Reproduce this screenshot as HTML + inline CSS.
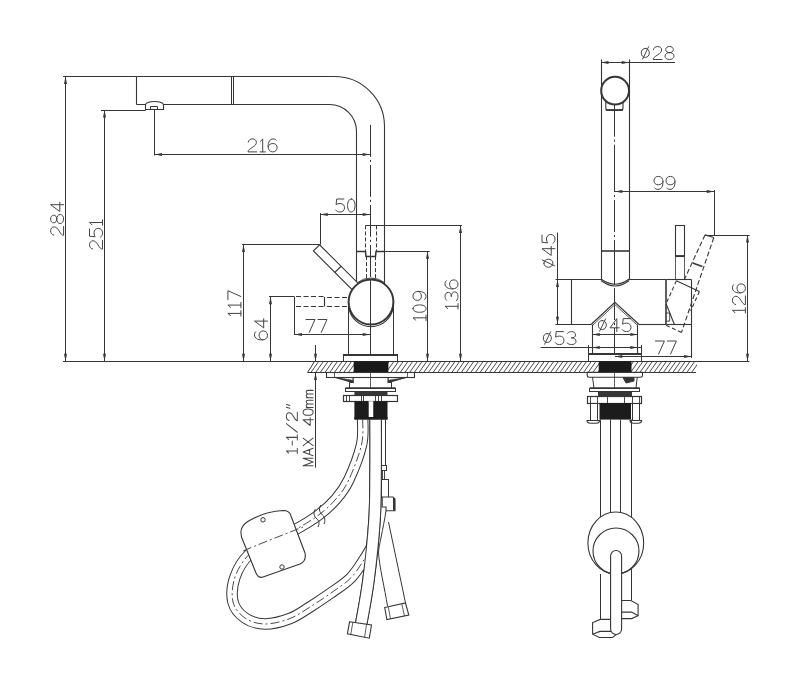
<!DOCTYPE html><html><head><meta charset="utf-8"><style>html,body{margin:0;padding:0;background:#fff;}svg{display:block;}</style></head><body>
<svg width="800" height="684" viewBox="0 0 800 684">
<rect width="800" height="684" fill="#fff"/>
<defs><clipPath id="slabL"><path d="M314.5 361.25 L697.5 361.25 L696 372.4 L307.5 372.4 C310 369 312.5 365 314.5 361.25 Z"/></clipPath></defs>
<g clip-path="url(#slabL)"><path d="M292.15 372.4 L300 361.25 M296.85 372.4 L304.7 361.25 M301.55 372.4 L309.4 361.25 M306.25 372.4 L314.1 361.25 M310.95 372.4 L318.8 361.25 M315.65 372.4 L323.5 361.25 M320.35 372.4 L328.2 361.25 M325.05 372.4 L332.9 361.25 M329.75 372.4 L337.6 361.25 M334.45 372.4 L342.3 361.25 M339.15 372.4 L347 361.25 M343.85 372.4 L351.7 361.25 M348.55 372.4 L356.4 361.25 M353.25 372.4 L361.1 361.25 M357.95 372.4 L365.8 361.25 M362.65 372.4 L370.5 361.25 M367.35 372.4 L375.2 361.25 M372.05 372.4 L379.9 361.25 M376.75 372.4 L384.6 361.25 M381.45 372.4 L389.3 361.25 M386.15 372.4 L394 361.25 M390.85 372.4 L398.7 361.25 M395.55 372.4 L403.4 361.25 M400.25 372.4 L408.1 361.25 M404.95 372.4 L412.8 361.25 M409.65 372.4 L417.5 361.25 M414.35 372.4 L422.2 361.25 M419.05 372.4 L426.9 361.25 M423.75 372.4 L431.6 361.25 M428.45 372.4 L436.3 361.25 M433.15 372.4 L441 361.25 M437.85 372.4 L445.7 361.25 M442.55 372.4 L450.4 361.25 M447.25 372.4 L455.1 361.25 M451.95 372.4 L459.8 361.25 M456.65 372.4 L464.5 361.25 M461.35 372.4 L469.2 361.25 M466.05 372.4 L473.9 361.25 M470.75 372.4 L478.6 361.25 M475.45 372.4 L483.3 361.25 M480.15 372.4 L488 361.25 M484.85 372.4 L492.7 361.25 M489.55 372.4 L497.4 361.25 M494.25 372.4 L502.1 361.25 M498.95 372.4 L506.8 361.25 M503.65 372.4 L511.5 361.25 M508.35 372.4 L516.2 361.25 M513.05 372.4 L520.9 361.25 M517.75 372.4 L525.6 361.25 M522.45 372.4 L530.3 361.25 M527.15 372.4 L535 361.25 M531.85 372.4 L539.7 361.25 M536.55 372.4 L544.4 361.25 M541.25 372.4 L549.1 361.25 M545.95 372.4 L553.8 361.25 M550.65 372.4 L558.5 361.25 M555.35 372.4 L563.2 361.25 M560.05 372.4 L567.9 361.25 M564.75 372.4 L572.6 361.25 M569.45 372.4 L577.3 361.25 M574.15 372.4 L582 361.25 M578.85 372.4 L586.7 361.25 M583.55 372.4 L591.4 361.25 M588.25 372.4 L596.1 361.25 M592.95 372.4 L600.8 361.25 M597.65 372.4 L605.5 361.25 M602.35 372.4 L610.2 361.25 M607.05 372.4 L614.9 361.25 M611.75 372.4 L619.6 361.25 M616.45 372.4 L624.3 361.25 M621.15 372.4 L629 361.25 M625.85 372.4 L633.7 361.25 M630.55 372.4 L638.4 361.25 M635.25 372.4 L643.1 361.25 M639.95 372.4 L647.8 361.25 M644.65 372.4 L652.5 361.25 M649.35 372.4 L657.2 361.25 M654.05 372.4 L661.9 361.25 M658.75 372.4 L666.6 361.25 M663.45 372.4 L671.3 361.25 M668.15 372.4 L676 361.25 M672.85 372.4 L680.7 361.25 M677.55 372.4 L685.4 361.25 M682.25 372.4 L690.1 361.25 M686.95 372.4 L694.8 361.25 M691.65 372.4 L699.5 361.25 M696.35 372.4 L704.2 361.25 M701.05 372.4 L708.9 361.25" stroke="#363636" stroke-width="0.9" fill="none"/></g>
<line x1="63" y1="361.5" x2="749.5" y2="361.5" stroke="#363636" stroke-width="1.2"/>
<line x1="307.5" y1="372.5" x2="696" y2="372.5" stroke="#363636" stroke-width="1.2"/>
<path d="M314.5 361.25 C312.5 365 310 369 307.5 372.4" fill="none" stroke="#363636" stroke-width="1"/>
<path d="M136.5 76.5 L334.5 76.5 A50 50 0 0 1 384.5 126.5 L384.5 290" fill="none" stroke="#363636" stroke-width="1.1"/>
<path d="M136.5 104.5 L145.5 104.5 M163.5 104.5 L329.5 104.5 A27 27 0 0 1 356.5 131.5 L356.5 290" fill="none" stroke="#363636" stroke-width="1.1"/>
<line x1="136.5" y1="76.5" x2="136.5" y2="104.5" stroke="#363636" stroke-width="1.1"/>
<line x1="63" y1="76.5" x2="136.5" y2="76.5" stroke="#363636" stroke-width="1"/>
<line x1="231.5" y1="76.5" x2="231.5" y2="105" stroke="#363636" stroke-width="1"/>
<line x1="233.5" y1="76.5" x2="233.5" y2="105" stroke="#363636" stroke-width="1"/>
<path d="M145.5 104.5 C146.8 102 150.5 101.5 154.5 101.5 C158.5 101.5 162.2 102 163.5 104.5 L163.5 109.5 L145.5 109.5 Z" fill="#fff" stroke="#363636" stroke-width="1.1"/>
<path d="M150.5 109.5 L150.5 106.5 L157.5 106.5 L157.5 109.5" fill="none" stroke="#363636" stroke-width="1"/>
<line x1="65.5" y1="76.5" x2="65.5" y2="361.25" stroke="#363636" stroke-width="1"/>
<path d="M65.5 76.5 L67 84 L64 84 Z" fill="#363636" stroke="none"/>
<path d="M65.5 361.25 L64 353.75 L67 353.75 Z" fill="#363636" stroke="none"/>
<line x1="101" y1="110.5" x2="145.7" y2="110.5" stroke="#363636" stroke-width="1"/>
<line x1="104.5" y1="110" x2="104.5" y2="361.25" stroke="#363636" stroke-width="1"/>
<path d="M104.5 110 L106 117.5 L103 117.5 Z" fill="#363636" stroke="none"/>
<path d="M104.5 361.25 L103 353.75 L106 353.75 Z" fill="#363636" stroke="none"/>
<line x1="154.5" y1="110" x2="154.5" y2="155.5" stroke="#363636" stroke-width="1"/>
<line x1="154.5" y1="154.5" x2="370.2" y2="154.5" stroke="#363636" stroke-width="1"/>
<path d="M154.5 154.5 L162 153 L162 156 Z" fill="#363636" stroke="none"/>
<path d="M370.2 154.5 L362.7 156 L362.7 153 Z" fill="#363636" stroke="none"/>
<line x1="370.5" y1="124.9" x2="370.5" y2="356" stroke="#363636" stroke-width="1" stroke-dasharray="32 3 2 3"/>
<line x1="320.5" y1="213" x2="320.5" y2="244.6" stroke="#363636" stroke-width="1"/>
<line x1="320.25" y1="214.5" x2="370.2" y2="214.5" stroke="#363636" stroke-width="1"/>
<path d="M320.25 214.5 L327.75 213 L327.75 216 Z" fill="#363636" stroke="none"/>
<path d="M370.2 214.5 L362.7 216 L362.7 213 Z" fill="#363636" stroke="none"/>
<line x1="242" y1="244.5" x2="320.25" y2="244.5" stroke="#363636" stroke-width="1"/>
<line x1="243.5" y1="244.6" x2="243.5" y2="361.25" stroke="#363636" stroke-width="1"/>
<path d="M243.5 244.6 L245 252.1 L242 252.1 Z" fill="#363636" stroke="none"/>
<path d="M243.5 361.25 L242 353.75 L245 353.75 Z" fill="#363636" stroke="none"/>
<path d="M313.42 250.93 L319.58 244.77 L362 287.2 L355.85 293.35 Z" fill="#fff" stroke="#363636" stroke-width="1.1"/>
<line x1="334.92" y1="272.43" x2="341.08" y2="266.27" stroke="#363636" stroke-width="1.2"/>
<line x1="365.5" y1="225.5" x2="462" y2="225.5" stroke="#363636" stroke-width="1"/>
<line x1="365.5" y1="225.4" x2="365.5" y2="251.2" stroke="#363636" stroke-width="1" stroke-dasharray="4 2"/>
<line x1="376.5" y1="225.4" x2="376.5" y2="251.2" stroke="#363636" stroke-width="1" stroke-dasharray="4 2"/>
<path d="M356.5 251.5 L365.5 251.5 L366 256.5 L375.5 256.5 L376 251.5 L384.5 251.5" fill="none" stroke="#363636" stroke-width="1.5"/>
<line x1="384.5" y1="251.5" x2="429.7" y2="251.5" stroke="#363636" stroke-width="1"/>
<line x1="366.5" y1="256.1" x2="366.5" y2="281" stroke="#363636" stroke-width="1" stroke-dasharray="4 2"/>
<line x1="375.5" y1="256.1" x2="375.5" y2="281" stroke="#363636" stroke-width="1" stroke-dasharray="4 2"/>
<line x1="460.5" y1="225.4" x2="460.5" y2="361.25" stroke="#363636" stroke-width="1"/>
<path d="M460.5 225.4 L462 232.9 L459 232.9 Z" fill="#363636" stroke="none"/>
<path d="M460.5 361.25 L459 353.75 L462 353.75 Z" fill="#363636" stroke="none"/>
<line x1="427.5" y1="251.2" x2="427.5" y2="361.25" stroke="#363636" stroke-width="1"/>
<path d="M427.5 251.2 L429 258.7 L426 258.7 Z" fill="#363636" stroke="none"/>
<path d="M427.5 361.25 L426 353.75 L429 353.75 Z" fill="#363636" stroke="none"/>
<line x1="348.5" y1="300" x2="348.5" y2="354.7" stroke="#363636" stroke-width="1"/>
<line x1="393.5" y1="300" x2="393.5" y2="354.7" stroke="#363636" stroke-width="1"/>
<rect x="343.5" y="354.5" width="54" height="7" fill="#fff" stroke="#363636" stroke-width="1"/>
<line x1="343.9" y1="355" x2="397.5" y2="355" stroke="#363636" stroke-width="1.8"/>
<circle cx="371" cy="302" r="22.4" fill="#fff" stroke="#363636" stroke-width="2"/>
<path d="M348.9 306 A22.4 22.4 0 0 0 393.1 306" fill="none" stroke="#333" stroke-width="1.1" transform="translate(0 2)"/>
<path d="M357 284.5 A22.4 22.4 0 0 1 385 284.5" fill="none" stroke="#444" stroke-width="1" transform="translate(0 -1.6)"/>
<line x1="370.5" y1="279" x2="370.5" y2="356" stroke="#363636" stroke-width="1"/>
<line x1="296" y1="296.5" x2="325" y2="296.5" stroke="#363636" stroke-width="1.1" stroke-dasharray="5 2.5"/>
<line x1="296" y1="306.5" x2="325" y2="306.5" stroke="#363636" stroke-width="1.1" stroke-dasharray="5 2.5"/>
<line x1="327" y1="297.5" x2="349" y2="297.5" stroke="#363636" stroke-width="1.1" stroke-dasharray="5 2.5"/>
<line x1="327" y1="306.5" x2="349" y2="306.5" stroke="#363636" stroke-width="1.1" stroke-dasharray="5 2.5"/>
<line x1="324.5" y1="297" x2="324.5" y2="306.5" stroke="#363636" stroke-width="1.2"/>
<line x1="269" y1="296.5" x2="294.5" y2="296.5" stroke="#363636" stroke-width="1"/>
<line x1="294.5" y1="296.8" x2="294.5" y2="335" stroke="#363636" stroke-width="1"/>
<line x1="270.5" y1="296.8" x2="270.5" y2="361.25" stroke="#363636" stroke-width="1"/>
<path d="M270.5 296.8 L272 304.3 L269 304.3 Z" fill="#363636" stroke="none"/>
<path d="M270.5 361.25 L269 353.75 L272 353.75 Z" fill="#363636" stroke="none"/>
<line x1="294.5" y1="334.5" x2="370.2" y2="334.5" stroke="#363636" stroke-width="1"/>
<path d="M294.5 334.5 L302 333 L302 336 Z" fill="#363636" stroke="none"/>
<path d="M370.2 334.5 L362.7 336 L362.7 333 Z" fill="#363636" stroke="none"/>
<line x1="315.5" y1="345" x2="315.5" y2="361.25" stroke="#363636" stroke-width="1"/>
<path d="M315.5 361.25 L314 353.75 L317 353.75 Z" fill="#363636" stroke="none"/>
<line x1="315.5" y1="372.4" x2="315.5" y2="467.7" stroke="#363636" stroke-width="1"/>
<path d="M315.5 372.4 L317 379.9 L314 379.9 Z" fill="#363636" stroke="none"/>
<rect x="353.7" y="361.25" width="34.7" height="11.15" fill="#1a1a1a"/>
<rect x="326.5" y="372.5" width="88" height="5" fill="#fff" stroke="#363636" stroke-width="1.1"/>
<line x1="334.5" y1="372.4" x2="334.5" y2="377.25" stroke="#363636" stroke-width="0.8"/>
<line x1="407.5" y1="372.4" x2="407.5" y2="377.25" stroke="#363636" stroke-width="0.8"/>
<path d="M334.4 377.25 L353.1 382.5 L353.1 377.25 M407 377.25 L388.1 382.5 L388.1 377.25" fill="none" stroke="#363636" stroke-width="1.2"/>
<path d="M336 377.4 L353.1 380.3 L353.1 382.6 Z M405.4 377.4 L388.1 380.3 L388.1 382.6 Z" fill="#363636" stroke="#363636" stroke-width="0.5"/>
<line x1="349.5" y1="382.5" x2="349.5" y2="388.1" stroke="#363636" stroke-width="1"/>
<line x1="391.5" y1="382.5" x2="391.5" y2="388.1" stroke="#363636" stroke-width="1"/>
<line x1="349.4" y1="382.5" x2="353.1" y2="382.5" stroke="#363636" stroke-width="1"/>
<line x1="388.1" y1="382.5" x2="391.9" y2="382.5" stroke="#363636" stroke-width="1"/>
<line x1="370.5" y1="372.4" x2="370.5" y2="390" stroke="#363636" stroke-width="0.8"/>
<rect x="345.5" y="388.5" width="50" height="3" fill="#fff" stroke="#363636" stroke-width="1"/>
<line x1="345.6" y1="388" x2="395.6" y2="388" stroke="#363636" stroke-width="1.5"/>
<rect x="354.4" y="391.5" width="33.1" height="3.5" fill="#363636"/>
<rect x="343.5" y="395.5" width="54" height="6" fill="#fff" stroke="#363636" stroke-width="1.2"/>
<line x1="346.5" y1="395" x2="346.5" y2="401.25" stroke="#363636" stroke-width="0.9"/>
<line x1="349.5" y1="395" x2="349.5" y2="401.25" stroke="#363636" stroke-width="0.9"/>
<line x1="361.5" y1="395" x2="361.5" y2="401.25" stroke="#363636" stroke-width="0.9"/>
<line x1="363.5" y1="395" x2="363.5" y2="401.25" stroke="#363636" stroke-width="0.9"/>
<line x1="375.5" y1="395" x2="375.5" y2="401.25" stroke="#363636" stroke-width="0.9"/>
<line x1="378.5" y1="395" x2="378.5" y2="401.25" stroke="#363636" stroke-width="0.9"/>
<line x1="381.5" y1="395" x2="381.5" y2="401.25" stroke="#363636" stroke-width="0.9"/>
<rect x="354.4" y="401.25" width="33.1" height="18.15" fill="#1c1c1c"/>
<rect x="368.1" y="401.25" width="5.65" height="18.15" fill="#fff"/>
<line x1="368.5" y1="401.25" x2="368.5" y2="419.4" stroke="#363636" stroke-width="0.8"/>
<line x1="373.5" y1="401.25" x2="373.5" y2="419.4" stroke="#363636" stroke-width="0.8"/>
<path d="M375.6 419.4 C375.6 427.83 375.78 453.23 375.6 470 C375.42 486.77 375.68 501.67 374.5 520 C373.32 538.33 370.75 562.5 368.5 580 C366.25 597.5 362.25 617.5 361 625" fill="none" stroke="#363636" stroke-width="12.5" stroke-linecap="butt"/>
<path d="M375.6 419.4 C375.6 427.83 375.78 453.23 375.6 470 C375.42 486.77 375.68 501.67 374.5 520 C373.32 538.33 370.75 562.5 368.5 580 C366.25 597.5 362.25 617.5 361 625" fill="none" stroke="#fff" stroke-width="10.5" stroke-linecap="butt"/>
<path d="M362.7 419.4 C362.5 423.67 363.83 434.9 361.5 445 C359.17 455.1 352.95 471 348.7 480 C344.45 489 341.12 493.08 336 499 C330.88 504.92 324.75 510.42 318 515.5 C311.25 520.58 303.17 525.25 295.5 529.5 C287.83 533.75 279.67 536.92 272 541 C264.33 545.08 255.67 548 249.5 554 C243.33 560 237.75 569 235 577 C232.25 585 231.33 595.17 233 602 C234.67 608.83 239.67 614.33 245 618 C250.33 621.67 257.5 623.92 265 624 C272.5 624.08 282.5 621.33 290 618.5 C297.5 615.67 303.47 611.05 310 607 C316.53 602.95 322.33 599.12 329.2 594.2 C336.07 589.28 344.9 584.03 351.2 577.5 C357.5 570.97 363.37 560.58 367 555 C370.63 549.42 372 545.83 373 544" fill="none" stroke="#363636" stroke-width="11.5" stroke-linecap="butt"/>
<path d="M362.7 419.4 C362.5 423.67 363.83 434.9 361.5 445 C359.17 455.1 352.95 471 348.7 480 C344.45 489 341.12 493.08 336 499 C330.88 504.92 324.75 510.42 318 515.5 C311.25 520.58 303.17 525.25 295.5 529.5 C287.83 533.75 279.67 536.92 272 541 C264.33 545.08 255.67 548 249.5 554 C243.33 560 237.75 569 235 577 C232.25 585 231.33 595.17 233 602 C234.67 608.83 239.67 614.33 245 618 C250.33 621.67 257.5 623.92 265 624 C272.5 624.08 282.5 621.33 290 618.5 C297.5 615.67 303.47 611.05 310 607 C316.53 602.95 322.33 599.12 329.2 594.2 C336.07 589.28 344.9 584.03 351.2 577.5 C357.5 570.97 363.37 560.58 367 555 C370.63 549.42 372 545.83 373 544" fill="none" stroke="#fff" stroke-width="9.5" stroke-linecap="butt"/>
<path d="M362.7 419.4 C362.5 423.67 363.83 434.9 361.5 445 C359.17 455.1 352.95 471 348.7 480 C344.45 489 341.12 493.08 336 499 C330.88 504.92 324.75 510.42 318 515.5 C311.25 520.58 303.17 525.25 295.5 529.5 C287.83 533.75 279.67 536.92 272 541 C264.33 545.08 255.67 548 249.5 554 C243.33 560 237.75 569 235 577 C232.25 585 231.33 595.17 233 602 C234.67 608.83 239.67 614.33 245 618 C250.33 621.67 257.5 623.92 265 624 C272.5 624.08 282.5 621.33 290 618.5 C297.5 615.67 303.47 611.05 310 607 C316.53 602.95 322.33 599.12 329.2 594.2 C336.07 589.28 344.9 584.03 351.2 577.5 C357.5 570.97 363.37 560.58 367 555 C370.63 549.42 372 545.83 373 544" fill="none" stroke="#363636" stroke-width="0.9" stroke-dasharray="9 3 2 3"/>
<path d="M375.6 419.4 C375.6 427.83 375.78 453.23 375.6 470 C375.42 486.77 375.68 501.67 374.5 520 C373.32 538.33 370.75 562.5 368.5 580 C366.25 597.5 362.25 617.5 361 625" fill="none" stroke="#363636" stroke-width="12.5" stroke-linecap="butt"/>
<path d="M375.6 419.4 C375.6 427.83 375.78 453.23 375.6 470 C375.42 486.77 375.68 501.67 374.5 520 C373.32 538.33 370.75 562.5 368.5 580 C366.25 597.5 362.25 617.5 361 625" fill="none" stroke="#fff" stroke-width="10.5" stroke-linecap="butt"/>
<rect x="354.4" y="417" width="33.1" height="2.6" fill="#1c1c1c"/>
<line x1="381.5" y1="419.4" x2="381.5" y2="466" stroke="#363636" stroke-width="1"/>
<line x1="385.5" y1="419.4" x2="385.5" y2="466" stroke="#363636" stroke-width="1"/>
<rect x="381.5" y="465.5" width="5" height="5" fill="#fff" stroke="#363636" stroke-width="1"/>
<rect x="382.5" y="470.5" width="2" height="9" fill="#fff" stroke="#363636" stroke-width="0.9"/>
<rect x="381.5" y="479.5" width="7" height="18" fill="#fff" stroke="#363636" stroke-width="1"/>
<path d="M382.2 497 L393 497 L395 499 L395 510.7 L386 510.7 L386 507 L382.2 507 Z" fill="#fff" stroke="#363636" stroke-width="1.1"/>
<line x1="394" y1="498" x2="394" y2="510.5" stroke="#363636" stroke-width="2"/>
<path d="M386 511 C383 530 379 545 378.5 552 C379 565 385 590 387.5 606" fill="none" stroke="#363636" stroke-width="1"/>
<path d="M388.5 522 L405.5 603" fill="none" stroke="#363636" stroke-width="1"/>
<path d="M349.6 621.7 L371.5 625 L369.3 638.2 L347.4 633.8 Z" fill="#fff" stroke="#363636" stroke-width="1.1"/>
<line x1="352.8" y1="622.4" x2="350.8" y2="634.4" stroke="#363636" stroke-width="0.8"/>
<line x1="366.5" y1="624.4" x2="364.6" y2="637.2" stroke="#363636" stroke-width="0.8"/>
<path d="M384.7 607.5 L405.5 603 L408.8 615.1 L386.9 619.5 Z" fill="#fff" stroke="#363636" stroke-width="1.1"/>
<line x1="388.3" y1="607" x2="390.5" y2="619" stroke="#363636" stroke-width="0.8"/>
<line x1="401.8" y1="604" x2="404.5" y2="616" stroke="#363636" stroke-width="0.8"/>
<path d="M241 533 C240.5 528 243 525 247 522 C258 515 270 511 283 510.5 C287 510.5 290 512 291 516 L305 553 C306 558 304.5 562 300 564 L263 577 C260 578 257.5 576.5 256 573 L241.5 537 Z" fill="#fff" stroke="#363636" stroke-width="1.1"/>
<path d="M243 551 C262 543 280 536 303 527" fill="none" stroke="#363636" stroke-width="0.9" stroke-dasharray="9 3 2 3"/>
<circle cx="263" cy="519.8" r="2.2" fill="#fff" stroke="#363636" stroke-width="1"/>
<circle cx="282" cy="567" r="2.2" fill="#fff" stroke="#363636" stroke-width="1"/>
<path d="M315.5 509 C313 512 313.5 516 317 519 C319.5 521 319.5 524 318 527" fill="none" stroke="#363636" stroke-width="1"/>
<path d="M321 505 C318.5 508 319 512 322.5 515 C325 517 325.5 521 324 524" fill="none" stroke="#363636" stroke-width="1"/>
<line x1="601.5" y1="59.4" x2="601.5" y2="279.6" stroke="#363636" stroke-width="1.1"/>
<line x1="629.5" y1="59.4" x2="629.5" y2="279.6" stroke="#363636" stroke-width="1.1"/>
<line x1="601" y1="62.5" x2="629.2" y2="62.5" stroke="#363636" stroke-width="1"/>
<path d="M601 62.5 L608.5 61 L608.5 64 Z" fill="#363636" stroke="none"/>
<path d="M629.2 62.5 L621.7 64 L621.7 61 Z" fill="#363636" stroke="none"/>
<line x1="629.2" y1="62.5" x2="675" y2="62.5" stroke="#363636" stroke-width="1"/>
<line x1="601" y1="251" x2="629.2" y2="251" stroke="#363636" stroke-width="1.6"/>
<path d="M601 279 Q615 289.5 629.2 279" fill="none" stroke="#363636" stroke-width="1.1"/>
<path d="M601 280.5 Q615 291.5 629.2 280.5" fill="none" stroke="#363636" stroke-width="1.1"/>
<circle cx="615.1" cy="90.7" r="13.9" fill="#fff" stroke="#363636" stroke-width="2"/>
<path d="M605.8 102 L605.8 108 Q605.8 110.2 608 110.2 L621 110.2 Q623 110.2 623 108 L623 102" fill="none" stroke="#363636" stroke-width="1.1"/>
<line x1="605.8" y1="110" x2="623" y2="110" stroke="#363636" stroke-width="1.8"/>
<line x1="614.5" y1="104.7" x2="614.5" y2="160" stroke="#363636" stroke-width="1" stroke-dasharray="32 3 2 3"/>
<line x1="614.5" y1="160" x2="614.5" y2="251" stroke="#363636" stroke-width="1" stroke-dasharray="32 3 2 3"/>
<line x1="614.5" y1="251" x2="614.5" y2="285" stroke="#363636" stroke-width="1"/>
<line x1="614.5" y1="288" x2="614.5" y2="354" stroke="#363636" stroke-width="1" stroke-dasharray="32 3 2 3"/>
<line x1="614.8" y1="191.5" x2="714.3" y2="191.5" stroke="#363636" stroke-width="1"/>
<path d="M614.8 191.5 L622.3 190 L622.3 193 Z" fill="#363636" stroke="none"/>
<path d="M714.3 191.5 L706.8 193 L706.8 190 Z" fill="#363636" stroke="none"/>
<line x1="714.5" y1="190" x2="714.5" y2="235" stroke="#363636" stroke-width="1"/>
<line x1="705" y1="235.5" x2="749.6" y2="235.5" stroke="#363636" stroke-width="1"/>
<line x1="747.5" y1="235" x2="747.5" y2="361.25" stroke="#363636" stroke-width="1"/>
<path d="M747.5 235 L749 242.5 L746 242.5 Z" fill="#363636" stroke="none"/>
<path d="M747.5 361.25 L746 353.75 L749 353.75 Z" fill="#363636" stroke="none"/>
<line x1="555.5" y1="279.5" x2="601" y2="279.5" stroke="#363636" stroke-width="1.1"/>
<line x1="629.2" y1="279.5" x2="666.4" y2="279.5" stroke="#363636" stroke-width="1.1"/>
<line x1="555.5" y1="324.5" x2="591.1" y2="324.5" stroke="#363636" stroke-width="1.1"/>
<line x1="639" y1="324.5" x2="666.4" y2="324.5" stroke="#363636" stroke-width="1.1"/>
<line x1="571.5" y1="279.6" x2="571.5" y2="324.3" stroke="#363636" stroke-width="1.1"/>
<line x1="557.5" y1="279.6" x2="557.5" y2="324.3" stroke="#363636" stroke-width="1"/>
<path d="M557.5 279.6 L559 287.1 L556 287.1 Z" fill="#363636" stroke="none"/>
<path d="M557.5 324.3 L556 316.8 L559 316.8 Z" fill="#363636" stroke="none"/>
<line x1="557.5" y1="232.5" x2="557.5" y2="279.6" stroke="#363636" stroke-width="1"/>
<line x1="666" y1="279.6" x2="666" y2="324.3" stroke="#363636" stroke-width="1.6"/>
<path d="M665.9 313 L669.7 313 L669.7 321.1 L665.9 321.1" fill="none" stroke="#363636" stroke-width="0.9"/>
<line x1="666.4" y1="279.5" x2="691.5" y2="279.5" stroke="#363636" stroke-width="1.1"/>
<line x1="691.5" y1="279.6" x2="691.5" y2="358" stroke="#363636" stroke-width="1.1"/>
<line x1="666.4" y1="324.5" x2="691.5" y2="324.5" stroke="#363636" stroke-width="1.1"/>
<rect x="675.5" y="225.5" width="9" height="31" fill="#fff" stroke="#363636" stroke-width="1.1"/>
<line x1="675.2" y1="256" x2="684.5" y2="256" stroke="#363636" stroke-width="1.8"/>
<line x1="675.5" y1="256" x2="675.5" y2="279.6" stroke="#363636" stroke-width="0.8"/>
<line x1="684.5" y1="256" x2="684.5" y2="279.6" stroke="#363636" stroke-width="0.8"/>
<path d="M676.4 280.7 L699.4 291.5" fill="none" stroke="#363636" stroke-width="1.1"/>
<path d="M699.4 291.5 L690.7 310.9" fill="none" stroke="#363636" stroke-width="1.1" stroke-dasharray="4 2.5"/>
<path d="M681.5 332.4 L666.1 325.2" fill="none" stroke="#363636" stroke-width="1.1" stroke-dasharray="4 2.5"/>
<path d="M676.4 280.7 L666.1 303.7" fill="none" stroke="#363636" stroke-width="1.1" stroke-dasharray="4 2.5"/>
<path d="M666.1 303.7 L674.3 324.2" fill="none" stroke="#363636" stroke-width="1.1"/>
<path d="M705 234.9 L713.8 237.5" fill="none" stroke="#363636" stroke-width="1.1"/>
<path d="M705 234.9 L684.5 279.2" fill="none" stroke="#363636" stroke-width="1.1" stroke-dasharray="5 2.5"/>
<path d="M713.8 237.5 L681.5 332.4" fill="none" stroke="#363636" stroke-width="1.1" stroke-dasharray="5 2.5"/>
<path d="M692.7 263 L702.4 266.5" fill="none" stroke="#363636" stroke-width="1.5"/>
<path d="M591.1 324.5 L614.9 302.3 L639 324.5" fill="none" stroke="#363636" stroke-width="1.2"/>
<path d="M592.6 325.4 L614.9 304.6 L637.5 325.4" fill="none" stroke="#363636" stroke-width="0.8"/>
<line x1="592.5" y1="324.5" x2="592.5" y2="354.3" stroke="#363636" stroke-width="1.1"/>
<line x1="637.5" y1="324.5" x2="637.5" y2="354.3" stroke="#363636" stroke-width="1.1"/>
<line x1="592.3" y1="334.5" x2="637.9" y2="334.5" stroke="#363636" stroke-width="1"/>
<path d="M592.3 334.5 L599.8 333 L599.8 336 Z" fill="#363636" stroke="none"/>
<path d="M637.9 334.5 L630.4 336 L630.4 333 Z" fill="#363636" stroke="none"/>
<line x1="540.6" y1="347.5" x2="641.4" y2="347.5" stroke="#363636" stroke-width="1"/>
<path d="M592.3 347.5 L599.8 346 L599.8 349 Z" fill="#363636" stroke="none"/>
<path d="M637.9 347.5 L630.4 349 L630.4 346 Z" fill="#363636" stroke="none"/>
<line x1="588.5" y1="345" x2="588.5" y2="360.8" stroke="#363636" stroke-width="1"/>
<line x1="641.5" y1="345" x2="641.5" y2="360.8" stroke="#363636" stroke-width="1"/>
<rect x="588.5" y="354.5" width="53" height="7" fill="#fff" stroke="#363636" stroke-width="1"/>
<line x1="588.8" y1="354" x2="641.4" y2="354" stroke="#363636" stroke-width="1.8"/>
<line x1="614.8" y1="356.5" x2="691.5" y2="356.5" stroke="#363636" stroke-width="1"/>
<path d="M614.8 356.5 L622.3 355 L622.3 358 Z" fill="#363636" stroke="none"/>
<path d="M691.5 356.5 L684 358 L684 355 Z" fill="#363636" stroke="none"/>
<rect x="598.7" y="361.25" width="32.8" height="11.15" fill="#1a1a1a"/>
<path d="M587.2 372.4 L642.5 372.4 L642.5 375.5 Q642.5 377.2 640.5 377.2 L589.2 377.2 Q587.2 377.2 587.2 375.5 Z" fill="#fff" stroke="#363636" stroke-width="1.1"/>
<path d="M592.5 377.2 L594 388 M637.2 377.2 L636 388" fill="none" stroke="#363636" stroke-width="1"/>
<path d="M623 377.5 L634 377.5 L634 381 L626 383 Z" fill="#333" stroke="#363636" stroke-width="1"/>
<line x1="614.5" y1="372.4" x2="614.5" y2="388" stroke="#363636" stroke-width="0.8"/>
<rect x="589.5" y="388.5" width="50" height="3" fill="#fff" stroke="#363636" stroke-width="1"/>
<line x1="589.8" y1="388" x2="639.8" y2="388" stroke="#363636" stroke-width="1.5"/>
<rect x="598" y="391.6" width="34" height="5.2" fill="#363636"/>
<rect x="587.5" y="396.5" width="54" height="7" fill="#fff" stroke="#363636" stroke-width="1.2"/>
<line x1="590.5" y1="396.8" x2="590.5" y2="403" stroke="#363636" stroke-width="0.9"/>
<line x1="597.5" y1="396.8" x2="597.5" y2="403" stroke="#363636" stroke-width="0.9"/>
<line x1="607.5" y1="396.8" x2="607.5" y2="403" stroke="#363636" stroke-width="0.9"/>
<line x1="624.5" y1="396.8" x2="624.5" y2="403" stroke="#363636" stroke-width="0.9"/>
<line x1="632.5" y1="396.8" x2="632.5" y2="403" stroke="#363636" stroke-width="0.9"/>
<line x1="639.5" y1="396.8" x2="639.5" y2="403" stroke="#363636" stroke-width="0.9"/>
<rect x="590.5" y="403.5" width="7" height="17" fill="#fff" stroke="#363636" stroke-width="1"/>
<rect x="632.5" y="403.5" width="7" height="17" fill="#fff" stroke="#363636" stroke-width="1"/>
<path d="M587 420.5 L599.5 420.5 Q599.5 423.2 596 423.2 L590.5 423.2 Q587 423.2 587 420.5 Z" fill="#fff" stroke="#363636" stroke-width="1.1"/>
<path d="M630 420.5 L641.6 420.5 Q641.6 423.2 638 423.2 L633.5 423.2 Q630 423.2 630 420.5 Z" fill="#fff" stroke="#363636" stroke-width="1.1"/>
<rect x="599.5" y="403" width="31.5" height="16.6" fill="#1c1c1c"/>
<line x1="600.5" y1="419.6" x2="600.5" y2="525" stroke="#363636" stroke-width="1"/>
<line x1="610.5" y1="419.6" x2="610.5" y2="525" stroke="#363636" stroke-width="1"/>
<line x1="620.5" y1="419.6" x2="620.5" y2="525" stroke="#363636" stroke-width="1"/>
<line x1="631.5" y1="419.6" x2="631.5" y2="525" stroke="#363636" stroke-width="1"/>
<ellipse cx="615.8" cy="543" rx="27.9" ry="31" fill="#fff" stroke="#363636" stroke-width="1.1"/>
<circle cx="616" cy="551" r="23" fill="none" stroke="#363636" stroke-width="1.1"/>
<line x1="600.5" y1="574" x2="600.5" y2="619.4" stroke="#363636" stroke-width="1"/>
<line x1="610.5" y1="574" x2="610.5" y2="619.4" stroke="#363636" stroke-width="1"/>
<line x1="620.5" y1="570" x2="620.5" y2="600.5" stroke="#363636" stroke-width="1"/>
<line x1="631.5" y1="568" x2="631.5" y2="600.5" stroke="#363636" stroke-width="1"/>
<path d="M600.3 619.4 L611 619.4 L616.4 634.6 L612.4 637.5 L599.5 637.5 L592.6 634.2 L592.6 622.6 Z" fill="#fff" stroke="none" stroke-width="0"/>
<path d="M611 619.4 L600.3 619.4 L592.6 622.6 L592.6 634.2 L599.5 637.5 L612.4 637.5 L616.4 634.6 M592.6 634.2 L599.9 631.4 L611 631.4" fill="none" stroke="#363636" stroke-width="1.1"/>
<path d="M621.6 600.5 L630.9 600.5 L638.1 604.5 L638.1 615.7 L631.7 618.6 L621.6 618.6 Z" fill="#fff" stroke="none" stroke-width="0"/>
<path d="M621.6 600.5 L630.9 600.5 L638.1 604.5 L638.1 615.7 L631.7 618.6 L621.6 618.6 M621.6 612.1 L631.7 612.1 L638.1 615.7" fill="none" stroke="#363636" stroke-width="1.1"/>
<path d="M610.6 556 A5.5 5.5 0 0 1 621.6 556 L621.6 629 A5.5 5.5 0 0 1 610.6 629 Z" fill="#fff" stroke="#363636" stroke-width="1.1"/>
<g transform="translate(247.8 151.9) rotate(0) scale(1 1) translate(0 -13)" fill="none" stroke="#444" stroke-width="1" stroke-linecap="round" stroke-linejoin="round"><path transform="translate(0 0)" d="M0.4 3.2 C0.8 1.2 2.4 0 4.6 0 C7 0 8.6 1.4 8.6 3.5 C8.6 5.6 7 7 4.4 8.6 C1.8 10.2 0.2 11.2 0.2 13 L9 13"/><path transform="translate(12 0)" d="M0.6 2.5 C1.5 2 2.3 1.2 2.9 0 L2.9 13 M0.2 13 L5.6 13"/><path transform="translate(20.3 0)" d="M8.2 1.3 C7.4 0.4 6.2 0 5 0 C1.8 0 0 3 0 7.4 C0 11 1.8 13 4.6 13 C7.3 13 9 11.3 9 8.7 C9 6.1 7.3 4.6 4.8 4.6 C2.5 4.6 0.6 5.8 0 7.8"/></g>
<g transform="translate(335.5 212) rotate(0) scale(1 1) translate(0 -13)" fill="none" stroke="#444" stroke-width="1" stroke-linecap="round" stroke-linejoin="round"><path transform="translate(0 0)" d="M8.4 0 L1.2 0 L0.6 5.6 C1.6 4.9 3 4.5 4.5 4.5 C7.4 4.5 9 6.3 9 8.8 C9 11.4 7.2 13 4.5 13 C2.6 13 1 12.3 0.2 11"/><path transform="translate(12 0)" d="M3.8 0 C1.2 0 0.1 3 0.1 6.5 C0.1 10 1.2 13 3.8 13 C6.4 13 7.5 10 7.5 6.5 C7.5 3 6.4 0 3.8 0 Z"/></g>
<g transform="translate(306 332.5) rotate(0) scale(1 1) translate(0 -13)" fill="none" stroke="#444" stroke-width="1" stroke-linecap="round" stroke-linejoin="round"><path transform="translate(0 0)" d="M0 0 L9 0 L3.2 13"/><path transform="translate(12 0)" d="M0 0 L9 0 L3.2 13"/></g>
<g transform="translate(267.5 339.9) rotate(-90) scale(1 1) translate(0 -13)" fill="none" stroke="#444" stroke-width="1" stroke-linecap="round" stroke-linejoin="round"><path transform="translate(0 0)" d="M8.2 1.3 C7.4 0.4 6.2 0 5 0 C1.8 0 0 3 0 7.4 C0 11 1.8 13 4.6 13 C7.3 13 9 11.3 9 8.7 C9 6.1 7.3 4.6 4.8 4.6 C2.5 4.6 0.6 5.8 0 7.8"/><path transform="translate(12 0)" d="M6.8 13 L6.8 0 L0 9.2 L9.2 9.2"/></g>
<g transform="translate(240.9 316.3) rotate(-90) scale(1 1) translate(0 -13)" fill="none" stroke="#444" stroke-width="1" stroke-linecap="round" stroke-linejoin="round"><path transform="translate(0 0)" d="M0.6 2.5 C1.5 2 2.3 1.2 2.9 0 L2.9 13 M0.2 13 L5.6 13"/><path transform="translate(8.3 0)" d="M0.6 2.5 C1.5 2 2.3 1.2 2.9 0 L2.9 13 M0.2 13 L5.6 13"/><path transform="translate(16.6 0)" d="M0 0 L9 0 L3.2 13"/></g>
<g transform="translate(63.6 235.5) rotate(-90) scale(1 1) translate(0 -13)" fill="none" stroke="#444" stroke-width="1" stroke-linecap="round" stroke-linejoin="round"><path transform="translate(0 0)" d="M0.4 3.2 C0.8 1.2 2.4 0 4.6 0 C7 0 8.6 1.4 8.6 3.5 C8.6 5.6 7 7 4.4 8.6 C1.8 10.2 0.2 11.2 0.2 13 L9 13"/><path transform="translate(12 0)" d="M4.5 6.1 C2.1 6.1 0.7 4.9 0.7 3.1 C0.7 1.2 2.3 0 4.5 0 C6.7 0 8.3 1.2 8.3 3.1 C8.3 4.9 6.9 6.1 4.5 6.1 C1.9 6.1 0 7.5 0 9.6 C0 11.7 1.9 13 4.5 13 C7.1 13 9 11.7 9 9.6 C9 7.5 7.1 6.1 4.5 6.1 Z"/><path transform="translate(24 0)" d="M6.8 13 L6.8 0 L0 9.2 L9.2 9.2"/></g>
<g transform="translate(102.5 249.4) rotate(-90) scale(1 1) translate(0 -13)" fill="none" stroke="#444" stroke-width="1" stroke-linecap="round" stroke-linejoin="round"><path transform="translate(0 0)" d="M0.4 3.2 C0.8 1.2 2.4 0 4.6 0 C7 0 8.6 1.4 8.6 3.5 C8.6 5.6 7 7 4.4 8.6 C1.8 10.2 0.2 11.2 0.2 13 L9 13"/><path transform="translate(12 0)" d="M8.4 0 L1.2 0 L0.6 5.6 C1.6 4.9 3 4.5 4.5 4.5 C7.4 4.5 9 6.3 9 8.8 C9 11.4 7.2 13 4.5 13 C2.6 13 1 12.3 0.2 11"/><path transform="translate(24 0)" d="M0.6 2.5 C1.5 2 2.3 1.2 2.9 0 L2.9 13 M0.2 13 L5.6 13"/></g>
<g transform="translate(426 320.7) rotate(-90) scale(1 1) translate(0 -13)" fill="none" stroke="#444" stroke-width="1" stroke-linecap="round" stroke-linejoin="round"><path transform="translate(0 0)" d="M0.6 2.5 C1.5 2 2.3 1.2 2.9 0 L2.9 13 M0.2 13 L5.6 13"/><path transform="translate(8.3 0)" d="M3.8 0 C1.2 0 0.1 3 0.1 6.5 C0.1 10 1.2 13 3.8 13 C6.4 13 7.5 10 7.5 6.5 C7.5 3 6.4 0 3.8 0 Z"/><path transform="translate(20.3 0)" d="M0.8 11.7 C1.6 12.6 2.8 13 4 13 C7.2 13 9 10 9 5.6 C9 2 7.2 0 4.4 0 C1.7 0 0 1.7 0 4.3 C0 6.9 1.7 8.4 4.2 8.4 C6.5 8.4 8.4 7.2 9 5.2"/></g>
<g transform="translate(458 309.2) rotate(-90) scale(1 1) translate(0 -13)" fill="none" stroke="#444" stroke-width="1" stroke-linecap="round" stroke-linejoin="round"><path transform="translate(0 0)" d="M0.6 2.5 C1.5 2 2.3 1.2 2.9 0 L2.9 13 M0.2 13 L5.6 13"/><path transform="translate(8.3 0)" d="M0.6 1.6 C1.6 0.6 3 0 4.6 0 C7 0 8.5 1.3 8.5 3.3 C8.5 5.3 6.9 6.3 4.2 6.3 C7.2 6.3 9 7.6 9 9.7 C9 11.8 7.2 13 4.6 13 C2.8 13 1.2 12.4 0.1 11.4"/><path transform="translate(20.3 0)" d="M8.2 1.3 C7.4 0.4 6.2 0 5 0 C1.8 0 0 3 0 7.4 C0 11 1.8 13 4.6 13 C7.3 13 9 11.3 9 8.7 C9 6.1 7.3 4.6 4.8 4.6 C2.5 4.6 0.6 5.8 0 7.8"/></g>
<g transform="translate(313.1 465.8) rotate(-90) scale(0.84 0.77) translate(0 -13)" fill="none" stroke="#444" stroke-width="1.24" stroke-linecap="round" stroke-linejoin="round"><path transform="translate(0 0)" d="M0 13 L0 0 L4.5 13 L9 0 L9 13"/><path transform="translate(12 0)" d="M0 13 L4.5 0 L9 13 M1.6 8.6 L7.4 8.6"/><path transform="translate(24 0)" d="M0 0 L9 13 M9 0 L0 13"/><path transform="translate(48 0)" d="M6.8 13 L6.8 0 L0 9.2 L9.2 9.2"/><path transform="translate(60 0)" d="M3.8 0 C1.2 0 0.1 3 0.1 6.5 C0.1 10 1.2 13 3.8 13 C6.4 13 7.5 10 7.5 6.5 C7.5 3 6.4 0 3.8 0 Z"/></g>
<g transform="translate(313.1 407.6) rotate(-90) scale(0.82 0.77) translate(0 -13)" fill="none" stroke="#444" stroke-width="1.26" stroke-linecap="round" stroke-linejoin="round"><path transform="translate(0 0)" d="M0 13 L0 4.2 M0 6.8 C0.4 5 1.6 4 3 4 C4 4 4.5 5 4.5 6.6 L4.5 13 M4.5 6.6 C5 5 6.2 4 7.4 4 C8.6 4 9 5 9 6.6 L9 13"/><path transform="translate(12 0)" d="M0 13 L0 4.2 M0 6.8 C0.4 5 1.6 4 3 4 C4 4 4.5 5 4.5 6.6 L4.5 13 M4.5 6.6 C5 5 6.2 4 7.4 4 C8.6 4 9 5 9 6.6 L9 13"/></g>
<g transform="translate(297.3 453.7) rotate(-90) scale(0.95 0.84) translate(0 -13)" fill="none" stroke="#444" stroke-width="1.12" stroke-linecap="round" stroke-linejoin="round"><path transform="translate(0 0)" d="M0.6 2.5 C1.5 2 2.3 1.2 2.9 0 L2.9 13 M0.2 13 L5.6 13"/><path transform="translate(8.3 0)" d="M0.8 7 L5 7"/><path transform="translate(14.3 0)" d="M0.6 2.5 C1.5 2 2.3 1.2 2.9 0 L2.9 13 M0.2 13 L5.6 13"/><path transform="translate(22.6 0)" d="M0 13 L9 0"/><path transform="translate(34.6 0)" d="M0.4 3.2 C0.8 1.2 2.4 0 4.6 0 C7 0 8.6 1.4 8.6 3.5 C8.6 5.6 7 7 4.4 8.6 C1.8 10.2 0.2 11.2 0.2 13 L9 13"/><path transform="translate(46.6 0)" d="M2.2 0 L1.2 4.2 M5.2 0 L4.2 4.2"/></g>
<g transform="translate(641 59.5) rotate(0) scale(1 1) translate(0 -13)" fill="none" stroke="#444" stroke-width="1" stroke-linecap="round" stroke-linejoin="round"><path transform="translate(0 0)" d="M4.3 1.9 C1.8 1.9 0.3 3.9 0.3 6.4 C0.3 8.9 1.8 10.9 4.3 10.9 C6.8 10.9 8.3 8.9 8.3 6.4 C8.3 3.9 6.8 1.9 4.3 1.9 Z M1.6 12.6 L7.6 0.2"/><path transform="translate(12 0)" d="M0.4 3.2 C0.8 1.2 2.4 0 4.6 0 C7 0 8.6 1.4 8.6 3.5 C8.6 5.6 7 7 4.4 8.6 C1.8 10.2 0.2 11.2 0.2 13 L9 13"/><path transform="translate(24 0)" d="M4.5 6.1 C2.1 6.1 0.7 4.9 0.7 3.1 C0.7 1.2 2.3 0 4.5 0 C6.7 0 8.3 1.2 8.3 3.1 C8.3 4.9 6.9 6.1 4.5 6.1 C1.9 6.1 0 7.5 0 9.6 C0 11.7 1.9 13 4.5 13 C7.1 13 9 11.7 9 9.6 C9 7.5 7.1 6.1 4.5 6.1 Z"/></g>
<g transform="translate(654 189.4) rotate(0) scale(1 1) translate(0 -13)" fill="none" stroke="#444" stroke-width="1" stroke-linecap="round" stroke-linejoin="round"><path transform="translate(0 0)" d="M0.8 11.7 C1.6 12.6 2.8 13 4 13 C7.2 13 9 10 9 5.6 C9 2 7.2 0 4.4 0 C1.7 0 0 1.7 0 4.3 C0 6.9 1.7 8.4 4.2 8.4 C6.5 8.4 8.4 7.2 9 5.2"/><path transform="translate(12 0)" d="M0.8 11.7 C1.6 12.6 2.8 13 4 13 C7.2 13 9 10 9 5.6 C9 2 7.2 0 4.4 0 C1.7 0 0 1.7 0 4.3 C0 6.9 1.7 8.4 4.2 8.4 C6.5 8.4 8.4 7.2 9 5.2"/></g>
<g transform="translate(555 267.5) rotate(-90) scale(1 1) translate(0 -13)" fill="none" stroke="#444" stroke-width="1" stroke-linecap="round" stroke-linejoin="round"><path transform="translate(0 0)" d="M4.3 1.9 C1.8 1.9 0.3 3.9 0.3 6.4 C0.3 8.9 1.8 10.9 4.3 10.9 C6.8 10.9 8.3 8.9 8.3 6.4 C8.3 3.9 6.8 1.9 4.3 1.9 Z M1.6 12.6 L7.6 0.2"/><path transform="translate(12 0)" d="M6.8 13 L6.8 0 L0 9.2 L9.2 9.2"/><path transform="translate(24 0)" d="M8.4 0 L1.2 0 L0.6 5.6 C1.6 4.9 3 4.5 4.5 4.5 C7.4 4.5 9 6.3 9 8.8 C9 11.4 7.2 13 4.5 13 C2.6 13 1 12.3 0.2 11"/></g>
<g transform="translate(598 331.6) rotate(0) scale(1 1) translate(0 -13)" fill="none" stroke="#444" stroke-width="1" stroke-linecap="round" stroke-linejoin="round"><path transform="translate(0 0)" d="M4.3 1.9 C1.8 1.9 0.3 3.9 0.3 6.4 C0.3 8.9 1.8 10.9 4.3 10.9 C6.8 10.9 8.3 8.9 8.3 6.4 C8.3 3.9 6.8 1.9 4.3 1.9 Z M1.6 12.6 L7.6 0.2"/><path transform="translate(12 0)" d="M6.8 13 L6.8 0 L0 9.2 L9.2 9.2"/><path transform="translate(24 0)" d="M8.4 0 L1.2 0 L0.6 5.6 C1.6 4.9 3 4.5 4.5 4.5 C7.4 4.5 9 6.3 9 8.8 C9 11.4 7.2 13 4.5 13 C2.6 13 1 12.3 0.2 11"/></g>
<g transform="translate(543 344.6) rotate(0) scale(1 1) translate(0 -13)" fill="none" stroke="#444" stroke-width="1" stroke-linecap="round" stroke-linejoin="round"><path transform="translate(0 0)" d="M4.3 1.9 C1.8 1.9 0.3 3.9 0.3 6.4 C0.3 8.9 1.8 10.9 4.3 10.9 C6.8 10.9 8.3 8.9 8.3 6.4 C8.3 3.9 6.8 1.9 4.3 1.9 Z M1.6 12.6 L7.6 0.2"/><path transform="translate(12 0)" d="M8.4 0 L1.2 0 L0.6 5.6 C1.6 4.9 3 4.5 4.5 4.5 C7.4 4.5 9 6.3 9 8.8 C9 11.4 7.2 13 4.5 13 C2.6 13 1 12.3 0.2 11"/><path transform="translate(24 0)" d="M0.6 1.6 C1.6 0.6 3 0 4.6 0 C7 0 8.5 1.3 8.5 3.3 C8.5 5.3 6.9 6.3 4.2 6.3 C7.2 6.3 9 7.6 9 9.7 C9 11.8 7.2 13 4.6 13 C2.8 13 1.2 12.4 0.1 11.4"/></g>
<g transform="translate(655.4 354) rotate(0) scale(1 1) translate(0 -13)" fill="none" stroke="#444" stroke-width="1" stroke-linecap="round" stroke-linejoin="round"><path transform="translate(0 0)" d="M0 0 L9 0 L3.2 13"/><path transform="translate(12 0)" d="M0 0 L9 0 L3.2 13"/></g>
<g transform="translate(745.4 313.2) rotate(-90) scale(1 1) translate(0 -13)" fill="none" stroke="#444" stroke-width="1" stroke-linecap="round" stroke-linejoin="round"><path transform="translate(0 0)" d="M0.6 2.5 C1.5 2 2.3 1.2 2.9 0 L2.9 13 M0.2 13 L5.6 13"/><path transform="translate(8.3 0)" d="M0.4 3.2 C0.8 1.2 2.4 0 4.6 0 C7 0 8.6 1.4 8.6 3.5 C8.6 5.6 7 7 4.4 8.6 C1.8 10.2 0.2 11.2 0.2 13 L9 13"/><path transform="translate(20.3 0)" d="M8.2 1.3 C7.4 0.4 6.2 0 5 0 C1.8 0 0 3 0 7.4 C0 11 1.8 13 4.6 13 C7.3 13 9 11.3 9 8.7 C9 6.1 7.3 4.6 4.8 4.6 C2.5 4.6 0.6 5.8 0 7.8"/></g>
</svg></body></html>
